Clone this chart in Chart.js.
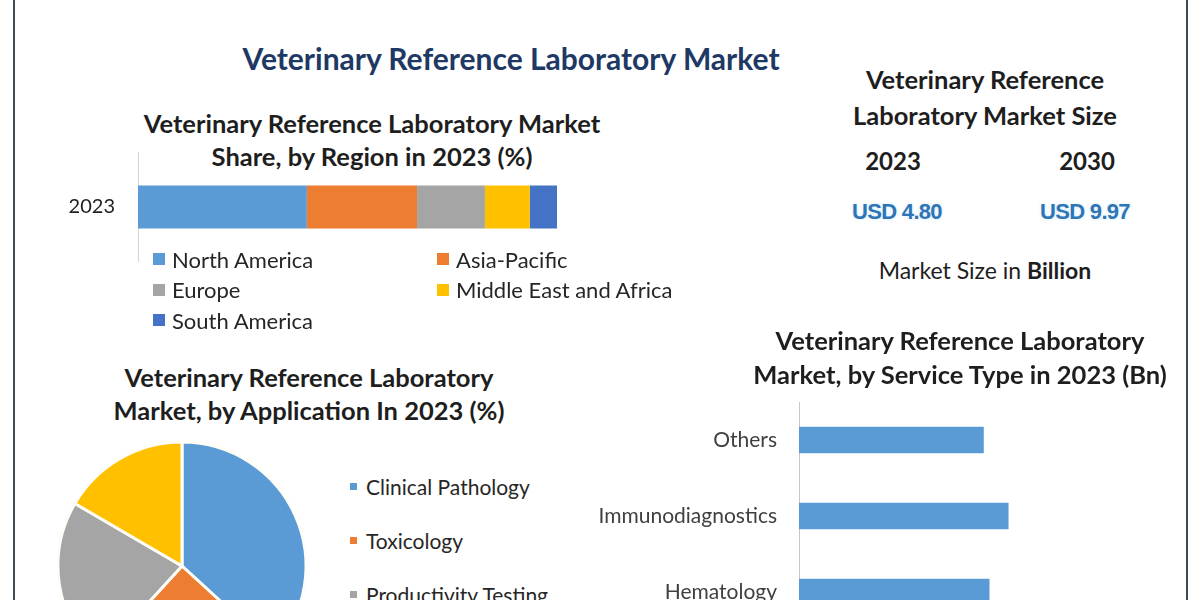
<!DOCTYPE html>
<html>
<head>
<meta charset="utf-8">
<script src="https://cdn.jsdelivr.net/npm/chart.js@4.4.1/dist/chart.umd.min.js"></script>
<style>
    body { margin: 0; width: 1200px; height: 600px; overflow: hidden; background: #ffffff; position: relative; font-family: Lato, "Open Sans", sans-serif; }
    .frame { position: absolute; left: 13px; top: 0; width: 1171px; height: 600px; border-left: 2px solid #3f4d52; border-right: 2px solid #3f4d52; }
    .t { position: absolute; width: 600px; text-align: center; white-space: nowrap; color: #1e1e1e; font-weight: bold; }
    .usd { position: absolute; width: 200px; text-align: center; color: #2e75b6; font-family: "Liberation Sans", Arial, sans-serif; font-weight: bold; font-size: 22px; letter-spacing: -0.7px; line-height: 26px; text-shadow: 0 0 4px #d6ecf7; }
    canvas { position: absolute; }
    #regionLegend { position: absolute; left: 153px; top: 244px; display: grid; grid-template-columns: 284px auto; grid-auto-rows: 30.5px; font-size: 22px; color: #262626; }
    #regionLegend div, #appLegend div { display: flex; align-items: center; white-space: nowrap; }
    #regionLegend span { display: inline-block; width: 12px; height: 12px; margin-right: 7px; }
    #appLegend { position: absolute; left: 350px; top: 459px; font-size: 21px; color: #262626; }
    #appLegend div { height: 54px; }
    #appLegend span { display: inline-block; width: 7px; height: 7px; margin-right: 9px; }
</style>
</head>
<body>
<div class="frame"></div>

<div class="t" style="left:211px; top:39px; font-size:30px; line-height:38px; color:#203864;">Veterinary Reference Laboratory Market</div>

<div class="t" style="left:72px; top:107px; font-size:25.5px; line-height:33px;">Veterinary Reference Laboratory Market<br>Share, by Region in 2023 (%)</div>
<canvas id="regionChart" width="517" height="110" style="left:40px; top:152px;"></canvas>
<div id="regionLegend"></div>

<div class="t" style="left:685px; top:61px; font-size:25.5px; line-height:36px;">Veterinary Reference<br>Laboratory Market Size</div>
<div class="t" style="left:593px; top:146px; font-size:24px; line-height:30px;">2023</div>
<div class="t" style="left:787px; top:146px; font-size:24px; line-height:30px;">2030</div>
<div class="usd" style="left:797px; top:199px;">USD 4.80</div>
<div class="usd" style="left:985px; top:199px;">USD 9.97</div>
<div class="t" style="left:685px; top:255px; font-size:23px; line-height:30px; font-weight:normal;">Market Size in <b>Billion</b></div>

<div class="t" style="left:9px; top:361px; font-size:25.5px; line-height:33px;">Veterinary Reference Laboratory<br>Market, by Application In 2023 (%)</div>
<canvas id="appChart" width="260" height="260" style="left:52px; top:436px;"></canvas>
<div id="appLegend"></div>

<div class="t" style="left:660px; top:323px; font-size:25.5px; line-height:34px;">Veterinary Reference Laboratory<br>Market, by Service Type in 2023 (Bn)</div>
<canvas id="serviceChart" width="600" height="228" style="left:580px; top:402px;"></canvas>

<script>
"use strict";

// Region share (%), 2023
const regionYear = ["2023"];
const regionLabels = ["North America", "Asia-Pacific", "Europe", "Middle East and Africa", "South America"];
const regionShare = [40.3, 26.3, 16.2, 10.7, 6.5];
const regionColors = ["#5b9bd5", "#ed7d31", "#a5a5a5", "#ffc000", "#4472c4"];

// Application share (%), 2023
const appLabels = ["Clinical Pathology", "Toxicology", "Productivity Testing", "Others"];
const appShare = [36.8, 25.0, 21.6, 16.6];
const appColors = ["#5b9bd5", "#ed7d31", "#a5a5a5", "#ffc000"];

// Service type (USD Bn), 2023
const serviceLabels = ["Others", "Immunodiagnostics", "Hematology"];
const serviceValues = [0.97, 1.10, 1.00];

Chart.defaults.font.family = "Lato";
Chart.defaults.animation = false;

// Fixed width category axis, no extra top/bottom padding from tick labels
function fixAxis(width) {
    return (scale) => {
        scale.width = width;
        scale.paddingTop = 0;
        scale.paddingBottom = 0;
    };
}

// Build an html legend from the chart's own legend items
function fillLegend(chart, id) {
    const box = document.getElementById(id);
    const items = chart.options.plugins.legend.labels.generateLabels(chart);
    items.forEach((item) => {
        let row = document.createElement("div");
        let swatch = document.createElement("span");
        swatch.style.background = item.fillStyle;
        row.appendChild(swatch);
        row.appendChild(document.createTextNode(item.text));
        box.appendChild(row);
    });
}

let regionChart = new Chart(document.getElementById("regionChart"), {
    type: "bar",
    data: {
        labels: regionYear,
        datasets: regionLabels.map((name, i) => ({
            label: name,
            data: [regionShare[i]],
            backgroundColor: regionColors[i],
            barPercentage: 0.39,
            categoryPercentage: 1
        }))
    },
    options: {
        indexAxis: "y",
        responsive: false,
        layout: {padding: 0},
        plugins: {legend: {display: false}, tooltip: {enabled: false}},
        scales: {
            x: {stacked: true, display: false, min: 0, max: 100},
            y: {
                stacked: true,
                grid: {display: false, drawTicks: false},
                border: {display: true, color: "#d4d4d4"},
                ticks: {padding: 23, color: "#1e1e1e", font: {size: 20}},
                afterFit: fixAxis(98)
            }
        }
    }
});
fillLegend(regionChart, "regionLegend");

let appChart = new Chart(document.getElementById("appChart"), {
    type: "pie",
    data: {
        labels: appLabels,
        datasets: [{
            data: appShare,
            backgroundColor: appColors,
            borderColor: "#fffdf7",
            borderWidth: 3
        }]
    },
    options: {
        responsive: false,
        radius: 124,
        layout: {padding: 0},
        plugins: {legend: {display: false}, tooltip: {enabled: false}}
    }
});
fillLegend(appChart, "appLegend");

new Chart(document.getElementById("serviceChart"), {
    type: "bar",
    data: {
        labels: serviceLabels,
        datasets: [{
            label: "Market (Bn)",
            data: serviceValues,
            backgroundColor: "#5b9bd5",
            barPercentage: 0.35,
            categoryPercentage: 1
        }]
    },
    options: {
        indexAxis: "y",
        responsive: false,
        layout: {padding: 0},
        plugins: {legend: {display: false}, tooltip: {enabled: false}},
        scales: {
            x: {display: false, min: 0, max: 2.0},
            y: {
                grid: {display: false, drawTicks: false},
                border: {display: true, color: "#c8c8c8"},
                ticks: {padding: 22, color: "#404040", font: {size: 21}},
                afterFit: fixAxis(219)
            }
        }
    }
});
</script>
</body>
</html>
